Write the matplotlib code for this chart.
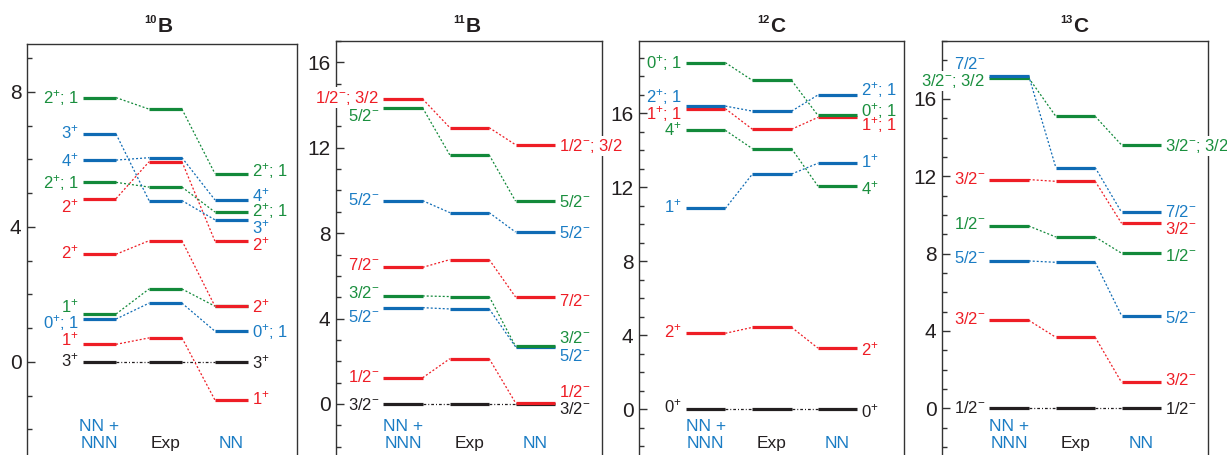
import matplotlib
matplotlib.use('Agg')
import matplotlib.pyplot as plt
from matplotlib.transforms import blended_transform_factory
from matplotlib.ticker import MultipleLocator

plt.rcParams.update({
    'font.family': ['Liberation Sans', 'DejaVu Sans'],
    'mathtext.fontset': 'custom',
    'mathtext.rm': 'Liberation Sans',
    'mathtext.it': 'Liberation Sans:italic',
    'mathtext.bf': 'Liberation Sans:bold',
    'mathtext.sf': 'Liberation Sans',
    'mathtext.default': 'regular',
})

# ---------------- data ----------------
# 10B
b10_labels = ['2$^{+}$; 1', '3$^{+}$', '4$^{+}$', '2$^{+}$; 1', '2$^{+}$', '2$^{+}$',
              '1$^{+}$', '0$^{+}$; 1', '1$^{+}$', '3$^{+}$']
b10_nnn = [7.83, 6.75, 5.98, 5.32, 4.84, 3.19, 1.42, 1.27, 0.52, 0.0]
b10_exp = [7.49, 4.78, 6.05, 5.18, 5.93, 3.59, 2.16, 1.74, 0.71, 0.0]
b10_nn = [5.58, 4.21, 4.80, 4.44, 3.58, 1.65, 1.65, 0.91, -1.13, 0.0]
b10_colors = ['g', 'b', 'b', 'g', 'r', 'r', 'g', 'b', 'r', 'k']
b10_left_y = [7.83, 6.80, 5.98, 5.32, 4.60, 3.25, 1.64, 1.16, 0.68, 0.06]
b10_right_y = [5.69, 4.00, 4.95, 4.48, 3.47, 1.66, None, 0.90, -1.07, -0.02]

# 11B
b11_labels = ['1/2$^{-}$; 3/2', '5/2$^{-}$', '5/2$^{-}$', '7/2$^{-}$', '3/2$^{-}$',
              '5/2$^{-}$', '1/2$^{-}$', '3/2$^{-}$']
b11_nnn = [14.28, 13.86, 9.52, 6.40, 5.06, 4.51, 1.23, 0.0]
b11_exp = [12.94, 11.66, 8.96, 6.76, 5.03, 4.45, 2.12, 0.0]
b11_nn = [12.14, 9.50, 8.05, 5.01, 2.70, 2.68, 0.05, 0.0]
b11_colors = ['r', 'g', 'b', 'r', 'g', 'b', 'r', 'k']
b11_left_y = [14.39, 13.53, 9.58, 6.54, 5.23, 4.13, 1.33, 0.0]
b11_right_y = [12.12, 9.52, 8.04, 4.87, 3.12, 2.29, 0.62, -0.20]

# 12C
c12_labels = ['0$^{+}$; 1', '2$^{+}$; 1', '1$^{+}$; 1', '4$^{+}$', '1$^{+}$', '2$^{+}$', '0$^{+}$']
c12_nnn = [18.74, 16.39, 16.25, 15.08, 10.86, 4.11, 0.0]
c12_exp = [17.78, 16.12, 15.14, 14.09, 12.72, 4.43, 0.0]
c12_nn = [15.89, 16.99, 15.78, 12.07, 13.30, 3.31, 0.0]
c12_colors = ['g', 'b', 'r', 'g', 'b', 'r', 'k']
c12_left_y = [18.74, 16.90, 16.00, 15.14, 10.95, 4.23, 0.14]
c12_right_y = [16.18, 17.30, 15.42, 11.95, 13.38, 3.26, -0.13]

# 13C
c13_labels = ['7/2$^{-}$', '3/2$^{-}$; 3/2', '3/2$^{-}$', '1/2$^{-}$', '5/2$^{-}$',
              '3/2$^{-}$', '1/2$^{-}$']
c13_nnn = [17.20, 17.09, 11.83, 9.43, 7.62, 4.55, 0.0]
c13_exp = [12.45, 15.10, 11.74, 8.86, 7.55, 3.67, 0.0]
c13_nn = [10.14, 13.62, 9.57, 8.02, 4.79, 1.34, 0.0]
c13_colors = ['b', 'g', 'r', 'g', 'b', 'r', 'k']
c13_left_y = [17.85, 16.98, 11.90, 9.60, 7.81, 4.66, 0.08]
c13_right_y = [10.22, 13.62, 9.30, 7.93, 4.74, 1.52, 0.03]

titles_mass = ['10', '11', '12', '13']
titles_elem = ['B', 'B', 'C', 'C']
col_names = ['NN +', 'NNN', 'Exp', 'NN']

# ---------------- style / layout ----------------
LINE_C = {'r': '#ee1d25', 'g': '#12893a', 'b': '#0f6bb4', 'k': '#231f20'}
TEXT_C = {'r': '#ee1d25', 'g': '#1a8f3e', 'b': '#1a7cc4', 'k': '#231f20'}

W, H = 1227, 455
fig = plt.figure(figsize=(W / 100, H / 100), dpi=100)

# pixel boxes: left, top, right
boxes = [(27, 44, 297), (336, 41, 602), (639, 41, 904), (942, 41, 1208)]
ylims = [(-2.76, 9.42), (-2.39, 17.0), (-2.47, 19.91), (-2.42, 19.0)]
cols_all = [
    [(0.207, 0.330), (0.452, 0.574), (0.696, 0.819)],
    [(0.177, 0.326), (0.428, 0.576), (0.675, 0.824)],
    [(0.177, 0.326), (0.428, 0.576), (0.675, 0.824)],
    [(0.177, 0.326), (0.428, 0.576), (0.675, 0.824)],
]
title_join = [157, 465.5, 770, 1073]
bbox_labels = {1: ([0], [0]), 3: ([1], [1])}

panels = [
    (b10_labels, b10_nnn, b10_exp, b10_nn, b10_colors, b10_left_y, b10_right_y),
    (b11_labels, b11_nnn, b11_exp, b11_nn, b11_colors, b11_left_y, b11_right_y),
    (c12_labels, c12_nnn, c12_exp, c12_nn, c12_colors, c12_left_y, c12_right_y),
    (c13_labels, c13_nnn, c13_exp, c13_nn, c13_colors, c13_left_y, c13_right_y),
]

LAB_FS = 12
for p, (box, yl, cols, data) in enumerate(zip(boxes, ylims, cols_all, panels)):
    l, t, r = box
    ax = fig.add_axes([l / W, 0, (r - l) / W, (H - t) / H])
    ax.set_xlim(0, 1)
    ax.set_ylim(*yl)
    ax.spines['bottom'].set_visible(False)
    for s in ('left', 'right', 'top'):
        ax.spines[s].set_linewidth(1.0)
        ax.spines[s].set_color('#333333')
    ax.set_xticks([])
    ax.yaxis.set_major_locator(MultipleLocator(4))
    ax.yaxis.set_minor_locator(MultipleLocator(1))
    ax.tick_params(axis='y', which='major', direction='in', length=5.5, width=1.0,
                   labelsize=15, pad=4, colors='#333333', labelcolor='#231f20')
    ax.tick_params(axis='y', which='minor', direction='in', length=3.5, width=1.0,
                   colors='#333333')
    ax.tick_params(axis='x', which='both', bottom=False)

    labels, nnn, exp, nn, colors, ly, ry = data
    n = len(labels)
    lb_set, rb_set = bbox_labels.get(p, ([], []))
    for i in reversed(range(n)):
        c = colors[i]
        vals = [nnn[i], exp[i], nn[i]]
        ls = (0, (1.6, 1.6)) if c != 'k' else (0, (2.2, 1.6, 0.8, 1.6))
        for k in range(2):
            ax.plot([cols[k][1], cols[k + 1][0]], [vals[k], vals[k + 1]],
                    color=LINE_C[c], lw=0.9, ls=ls, zorder=2)
        for k in range(3):
            ax.plot(list(cols[k]), [vals[k], vals[k]], color=LINE_C[c], lw=2.3,
                    solid_capstyle='butt', zorder=3)
    for i in range(n):
        c = colors[i]
        kw = dict(color=TEXT_C[c], fontsize=LAB_FS, va='baseline',
                  textcoords='offset points', annotation_clip=False, zorder=10)
        bb = dict(boxstyle='square,pad=0.08', fc='white', ec='none')
        if ly[i] is not None:
            ax.annotate(labels[i], (cols[0][0], ly[i]), xytext=(-2.9, -4.3), ha='right',
                        bbox=bb if i in lb_set else None, **kw)
        if ry[i] is not None:
            ax.annotate(labels[i], (cols[2][1], ry[i]), xytext=(2.9, -4.3), ha='left',
                        bbox=bb if i in rb_set else None, **kw)

    trans = blended_transform_factory(ax.transAxes, fig.transFigure)
    cx = [(a + b) / 2 for a, b in cols]
    ax.text(cx[0], 1 - 430.7 / H, col_names[0], transform=trans, ha='center',
            va='baseline', fontsize=12.5, color=TEXT_C['b'])
    ax.text(cx[0], 1 - 447.7 / H, col_names[1], transform=trans, ha='center',
            va='baseline', fontsize=12.5, color=TEXT_C['b'])
    ax.text(cx[1], 1 - 447.7 / H, col_names[2], transform=trans, ha='center',
            va='baseline', fontsize=12.5, color='#231f20')
    ax.text(cx[2], 1 - 447.7 / H, col_names[3], transform=trans, ha='center',
            va='baseline', fontsize=12.5, color=TEXT_C['b'])

    xj = title_join[p] / W
    fig.text(xj + 0.5 / W, 1 - 32 / H, titles_elem[p], ha='left', va='baseline',
             fontsize=15, fontweight='bold', color='#231f20')
    fig.text(xj - 0.5 / W, 1 - 22.7 / H, titles_mass[p], ha='right', va='baseline',
             fontsize=8, fontweight='bold', color='#231f20')

fig.savefig('out.png', dpi=100)
